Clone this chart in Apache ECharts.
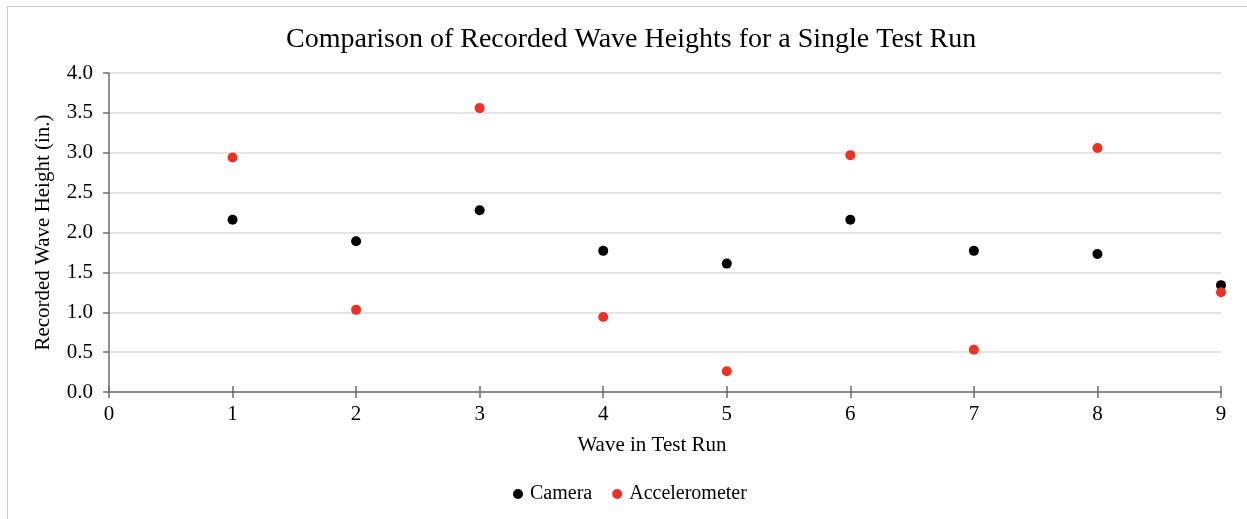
<!DOCTYPE html>
<html>
<head>
<meta charset="utf-8">
<script src="https://cdn.jsdelivr.net/npm/echarts@6/dist/echarts.min.js"></script>
<style>
  html, body { margin: 0; padding: 0; background: #fff; }
  #frame { position: absolute; left: 7px; top: 6px; width: 1300px; height: 600px;
           border-left: 1px solid #c8c8c8; border-top: 1px solid #c8c8c8; }
  #chart { position: absolute; left: 0; top: 0; width: 1247px; height: 519px; }
</style>
</head>
<body>
<div id="frame"></div>
<div id="chart"></div>
<script>
// Wave number within the test run
const waves = [1, 2, 3, 4, 5, 6, 7, 8, 9];
// Recorded wave heights (in.)
const cameraHeights = [2.16, 1.89, 2.28, 1.77, 1.61, 2.16, 1.77, 1.73, 1.34];
const accelerometerHeights = [2.94, 1.03, 3.56, 0.94, 0.26, 2.97, 0.53, 3.06, 1.25];

const serif = 'Liberation Serif, Times New Roman, serif';
const axisColor = '#6e6e6e';

const chart = echarts.init(document.getElementById('chart'), null, { renderer: 'canvas' });

chart.setOption({
  animation: false,
  backgroundColor: 'transparent',
  title: {
    text: 'Comparison of Recorded Wave Heights for a Single Test Run',
    left: 286,
    top: 26,
    padding: 0,
    textStyle: { fontFamily: serif, fontSize: 28, fontWeight: 'normal', color: '#000' }
  },
  legend: {
    data: ['Camera', 'Accelerometer'],
    left: 513,
    top: 484,
    padding: 0,
    icon: 'circle',
    itemWidth: 10,
    itemHeight: 10,
    itemGap: 20,
    textStyle: { fontFamily: serif, fontSize: 20, color: '#000', padding: [0, 0, 0, 2] }
  },
  grid: { left: 109, right: 26, top: 73, bottom: 127, containLabel: false },
  xAxis: [
    {
      type: 'value',
      min: 0, max: 9, interval: 1,
      name: 'Wave in Test Run',
      nameLocation: 'middle',
      nameGap: 43,
      nameTextStyle: { fontFamily: serif, fontSize: 21, color: '#000', padding: [0, 26, 0, 0] },
      axisLine: { show: true, onZero: false, lineStyle: { color: axisColor, width: 1.5 } },
      axisTick: { show: true, inside: false, length: 6, lineStyle: { color: axisColor, width: 1.5 } },
      axisLabel: { fontFamily: serif, fontSize: 21, color: '#000', margin: 12 },
      splitLine: { show: false }
    },
    {
      // upper half of the crossing tick marks
      type: 'value',
      position: 'bottom',
      min: 0, max: 9, interval: 1,
      axisLine: { show: false },
      axisTick: { show: true, inside: true, length: 6, lineStyle: { color: axisColor, width: 1.5 } },
      axisLabel: { show: false },
      splitLine: { show: false }
    }
  ],
  yAxis: {
    type: 'value',
    min: 0, max: 4, interval: 0.5,
    name: 'Recorded Wave Height (in.)',
    nameLocation: 'middle',
    nameGap: 55,
    nameTextStyle: { fontFamily: serif, fontSize: 21, color: '#000' },
    axisLine: { show: true, lineStyle: { color: axisColor, width: 1.5 } },
    axisTick: { show: true, length: 6, lineStyle: { color: axisColor, width: 1.5 } },
    axisLabel: {
      fontFamily: serif, fontSize: 21, color: '#000', margin: 16,
      formatter: v => v.toFixed(1)
    },
    splitLine: { show: true, lineStyle: { color: '#dcdcdc', width: 1.5 } }
  },
  series: [
    {
      name: 'Camera',
      type: 'scatter',
      clip: false,
      symbol: 'circle',
      symbolSize: 10,
      itemStyle: { color: '#000000', opacity: 1 },
      data: waves.map((w, i) => [w, cameraHeights[i]])
    },
    {
      name: 'Accelerometer',
      type: 'scatter',
      clip: false,
      symbol: 'circle',
      symbolSize: 10,
      itemStyle: { color: '#ee3124', opacity: 1 },
      data: waves.map((w, i) => [w, accelerometerHeights[i]])
    }
  ]
});
</script>
</body>
</html>
